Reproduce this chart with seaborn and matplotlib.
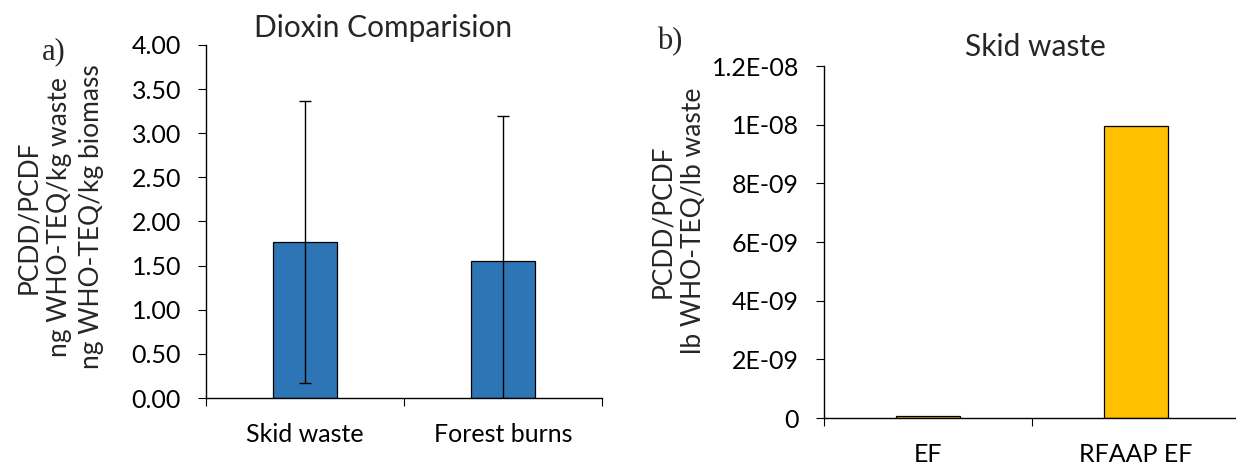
import matplotlib
matplotlib.use("Agg")
import matplotlib.pyplot as plt
import matplotlib.ticker as mticker
import pandas as pd
import seaborn as sns

# panel a) data
sites = ["Skid waste", "Forest burns"]
teq_mean = [1.77, 1.55]
teq_err = [1.60, 1.64]

# panel b) data
factors = ["EF", "RFAAP EF"]
ef_values = [6e-11, 9.95e-09]

sns.set_style("white")
plt.rcParams["font.family"] = ["Lato", "DejaVu Sans"]

W, H = 1236, 465
fig = plt.figure(figsize=(W / 100, H / 100), dpi=100)

ax1 = fig.add_axes([206 / W, 1 - 398 / H, 396 / W, 353 / H])
ax2 = fig.add_axes([824 / W, 1 - 418 / H, 416 / W, 352 / H])

df_a = pd.DataFrame({"site": sites, "teq": teq_mean})
sns.barplot(data=df_a, x="site", y="teq", color="#2E75B6", width=0.32,
            edgecolor="black", linewidth=0.9, saturation=1, ax=ax1)
ax1.errorbar(x=sites, y=teq_mean, yerr=teq_err, fmt="none", ecolor="black",
             elinewidth=1, capsize=4.5, capthick=1)
ax1.set_ylim(0, 4)
ax1.set_xlim(-0.5, 1.5)
ax1.set_yticks([0, 0.5, 1, 1.5, 2, 2.5, 3, 3.5, 4])
ax1.yaxis.set_major_formatter(mticker.FormatStrFormatter("%.2f"))

df_b = pd.DataFrame({"factor": factors, "value": ef_values})
sns.barplot(data=df_b, x="factor", y="value", hue="factor",
            palette=["#FFC000", "#FFC000"], width=0.31, legend=False,
            edgecolor="black", linewidth=0.9, saturation=1, ax=ax2)
ax2.set_ylim(0, 1.2e-8)
ax2.set_xlim(-0.5, 1.5)
ax2.set_yticks([0, 2e-9, 4e-9, 6e-9, 8e-9, 1e-8, 1.2e-8])


def excel_sci(v, pos):
    if v == 0:
        return "0"
    s = f"{v:.1E}"
    return s.replace(".0E", "E")


ax2.yaxis.set_major_formatter(mticker.FuncFormatter(excel_sci))

for ax in (ax1, ax2):
    ax.set_xlabel("")
    ax.set_ylabel("")
    sns.despine(ax=ax)
    for sp in ("left", "bottom"):
        ax.spines[sp].set_color("black")
        ax.spines[sp].set_linewidth(1)
    ax.set_xticks([-0.5, 0.5, 1.5], minor=True)
    ax.tick_params(axis="both", which="both", direction="out", length=6,
                   width=0.8, color="black", labelsize=18, labelcolor="black",
                   left=True, bottom=True)
    ax.tick_params(axis="x", which="major", length=0)
    ax.tick_params(axis="y", pad=12)

ax1.tick_params(axis="x", pad=18)
ax2.tick_params(axis="x", pad=18)

fig.text(383 / W, 1 - 28 / H, "Dioxin Comparision", ha="center", va="center",
         fontsize=21.5)
fig.text(1035 / W, 1 - 47 / H, "Skid waste", ha="center", va="center",
         fontsize=21.5)

fig.text(42 / W, 1 - 52 / H, "a)", ha="left", va="center", fontsize=22,
         family="Liberation Serif")
fig.text(657 / W, 1 - 42 / H, "b)", ha="left", va="center", fontsize=22,
         family="Liberation Serif")

fig.text(60 / W, 1 - 217 / H,
         "PCDD/PCDF\nng WHO-TEQ/kg waste\nng WHO-TEQ/kg biomass",
         rotation=90, ha="center", va="center", multialignment="center",
         fontsize=19, linespacing=1.3)
fig.text(678 / W, 1 - 221 / H, "PCDD/PCDF\nlb WHO-TEQ/lb waste",
         rotation=90, ha="center", va="center", multialignment="center",
         fontsize=19, linespacing=1.3)

fig.savefig("out.png", dpi=100)
